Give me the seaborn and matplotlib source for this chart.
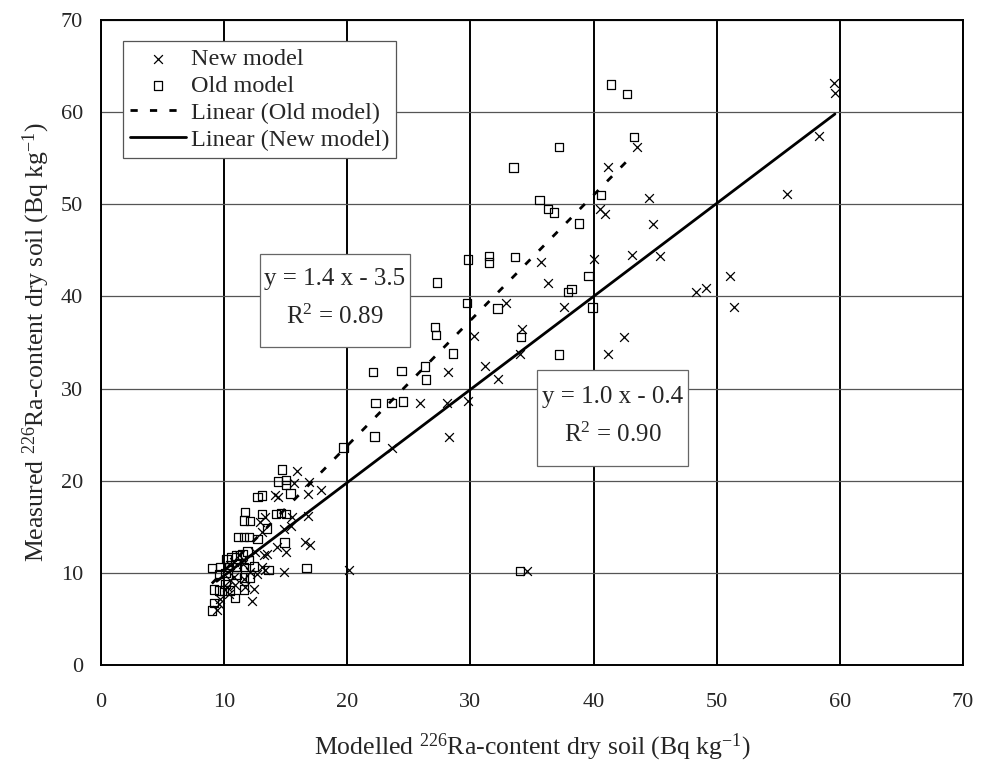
import matplotlib
matplotlib.use("Agg")
import matplotlib.pyplot as plt
from matplotlib.patches import Rectangle
import seaborn as sns
import numpy as np
import pandas as pd

# ---- data ----
new_x = [59.5, 59.6, 58.3, 55.7, 43.5, 41.2, 44.5, 40.5, 40.9, 44.8, 43.1, 45.4, 40.0,
         51.1, 48.3, 49.1, 51.4, 37.6, 42.5, 41.2, 35.7, 36.3, 32.9, 34.2, 30.3, 34.0,
         31.2, 28.2, 32.2, 25.9, 28.1, 29.8, 28.3, 23.6, 34.6, 20.1,
         15.9, 15.7, 16.9, 17.9, 16.8, 14.1, 14.4, 16.8, 15.5, 15.4, 14.9, 17.0, 15.0,
         13.3, 12.9, 13.1, 16.6, 14.3, 13.2, 13.5, 12.5, 11.2, 10.8, 10.5, 11.5, 13.1,
         13.3, 12.1, 12.7, 14.9, 10.8, 10.5, 11.6, 10.9, 11.7, 12.4, 10.2, 10.4, 12.3,
         9.7, 9.6, 9.4]
new_y = [63.2, 62.1, 57.4, 51.1, 56.2, 54.0, 50.7, 49.5, 49.0, 47.9, 44.5, 44.4, 44.1,
         42.2, 40.5, 40.9, 38.8, 38.8, 35.6, 33.7, 43.7, 41.5, 39.3, 36.5, 35.7, 33.8,
         32.4, 31.8, 31.0, 28.4, 28.4, 28.7, 24.7, 23.6, 10.2, 10.3,
         21.1, 19.7, 19.9, 19.0, 18.6, 18.4, 18.2, 16.2, 16.1, 15.1, 14.8, 13.0, 12.3,
         16.1, 15.5, 14.4, 13.3, 12.8, 11.9, 12.0, 12.3, 11.9, 11.2, 10.8, 11.0, 10.6,
         10.3, 10.1, 9.9, 10.1, 9.5, 9.2, 9.3, 8.7, 8.5, 8.2, 8.5, 7.7, 7.0,
         7.2, 6.6, 6.0]

old_x = [41.4, 42.7, 43.3, 40.6, 38.8, 37.2, 39.6, 38.2, 37.9, 39.9, 37.2, 33.5, 35.6,
         36.3, 36.8, 29.8, 31.5, 31.5, 33.6, 27.3, 29.7, 32.2, 27.1, 27.2, 34.1, 28.6,
         22.1, 24.4, 26.3, 26.4, 22.3, 23.6, 24.5, 22.2, 19.7, 34.0, 16.7,
         14.7, 14.4, 15.0, 15.0, 15.4, 12.7, 13.1, 11.7, 11.6, 12.1, 13.1, 13.5, 14.2,
         14.6, 15.0, 11.1, 11.6, 12.0, 12.7, 14.9, 10.2, 10.6, 11.0, 11.5, 11.9, 12.0,
         9.0, 9.7, 9.6, 10.1, 10.4, 11.0, 11.6, 12.4, 13.6, 11.0, 11.6, 12.1, 10.1,
         9.2, 9.6, 10.0, 10.5, 11.6, 10.9, 9.2, 9.0]
old_y = [63.0, 62.0, 57.3, 51.0, 47.9, 56.2, 42.2, 40.8, 40.5, 38.8, 33.7, 54.0, 50.5,
         49.5, 49.1, 44.0, 44.4, 43.7, 44.3, 41.5, 39.3, 38.7, 36.7, 35.8, 35.6, 33.8,
         31.8, 31.9, 32.4, 31.0, 28.4, 28.4, 28.6, 24.8, 23.6, 10.2, 10.5,
         21.2, 19.9, 20.1, 19.5, 18.6, 18.2, 18.4, 16.6, 15.7, 15.6, 16.4, 14.8, 16.4,
         16.5, 16.4, 13.9, 13.9, 13.9, 13.7, 13.3, 11.5, 11.7, 11.9, 12.0, 12.3, 11.4,
         10.5, 10.6, 9.9, 10.0, 10.6, 10.6, 10.6, 10.7, 10.3, 9.8, 9.5, 9.5, 8.8,
         8.2, 8.1, 8.1, 8.1, 8.2, 7.3, 6.7, 5.9]

# trendline coefficients (slope, intercept) as drawn
new_fit = [1.01, -0.4]
old_fit = [1.36, -3.4]

ticks = [0, 10, 20, 30, 40, 50, 60, 70]
eq_old = "y = 1.4 x - 3.5\nR$^2$ = 0.89"
eq_new = "y = 1.0 x - 0.4\nR$^2$ = 0.90"

# ---- styling ----
sns.set_theme(style="white")
plt.rcParams["font.family"] = ["Liberation Serif", "DejaVu Serif"]
plt.rcParams["mathtext.fontset"] = "custom"
plt.rcParams["mathtext.rm"] = "Liberation Serif"
plt.rcParams["mathtext.it"] = "Liberation Serif:italic"

fig = plt.figure(figsize=(9.87, 7.69), dpi=100)
ax = fig.add_axes([101 / 987, 1 - 665 / 769, 862 / 987, 645 / 769])

df_new = pd.DataFrame({"x": new_x, "y": new_y})
df_old = pd.DataFrame({"x": old_x, "y": old_y})

sns.scatterplot(data=df_new, x="x", y="y", ax=ax, marker="x", color="black",
                s=40, linewidth=0.9, label="New model", zorder=3)
sns.scatterplot(data=df_old, x="x", y="y", ax=ax, marker="s", facecolors="none",
                edgecolor="black", s=36, linewidth=0.9, label="Old model", zorder=3)

ox = np.array([min(old_x), max(old_x)])
nx = np.array([min(new_x), max(new_x)])
df_lo = pd.DataFrame({"x": ox, "y": old_fit[0] * ox + old_fit[1]})
df_ln = pd.DataFrame({"x": nx, "y": new_fit[0] * nx + new_fit[1]})
sns.lineplot(data=df_lo, x="x", y="y", ax=ax, color="black", linewidth=2.0,
             label="Linear (Old model)", zorder=4)
sns.lineplot(data=df_ln, x="x", y="y", ax=ax, color="black", linewidth=2.0,
             label="Linear (New model)", zorder=4)
ax.lines[0].set_dashes((2.6, 4.4))

ax.set_xlim(0, 70)
ax.set_ylim(0, 70)
ax.set_xticks(ticks)
ax.set_yticks(ticks)
ax.set_xticklabels([str(t) for t in ticks], fontsize=16)
ax.set_yticklabels([str(t) for t in ticks], fontsize=16)
ax.tick_params(axis="x", length=0, pad=20)
ax.tick_params(axis="y", length=0, pad=13)

ax.xaxis.grid(True, color="black", linewidth=1.4)
ax.yaxis.grid(True, color="#555555", linewidth=0.9)
ax.set_axisbelow(True)
for sp in ax.spines.values():
    sp.set_color("black")
    sp.set_linewidth(1.4)

ax.set_xlabel("Modelled $^{226}$Ra-content dry soil (Bq kg$^{-1}$)", fontsize=18.5, labelpad=14)
ax.set_ylabel("Measured $^{226}$Ra-content dry soil (Bq kg$^{-1}$)", fontsize=18.5, labelpad=6)

# equation boxes (layout positions in data units)
for (x0, y0, w, h), (tx, ty), txt in [((12.9, 34.5, 12.2, 10.1), (19.0, 39.8), eq_old),
                                       ((35.4, 21.6, 12.3, 10.4), (41.55, 27.0), eq_new)]:
    ax.add_patch(Rectangle((x0, y0), w, h, facecolor="white", edgecolor="#666666",
                           linewidth=0.9, zorder=5))
    ax.text(tx, ty, txt, ha="center", va="center", multialignment="center",
            fontsize=18, linespacing=1.75, zorder=6)

# legend order: New, Old, Linear(Old), Linear(New)
handles, labels = ax.get_legend_handles_labels()
leg = ax.legend(handles, labels, loc="upper left", bbox_to_anchor=(0.025, 0.968),
                fontsize=17.5, frameon=True, fancybox=False, framealpha=1,
                edgecolor="#555555", borderpad=0.3, labelspacing=0.2,
                handlelength=2.3, handletextpad=0.2, borderaxespad=0)
leg.get_frame().set_linewidth(0.9)
leg.set_zorder(7)

fig.savefig("out.png", dpi=100)
